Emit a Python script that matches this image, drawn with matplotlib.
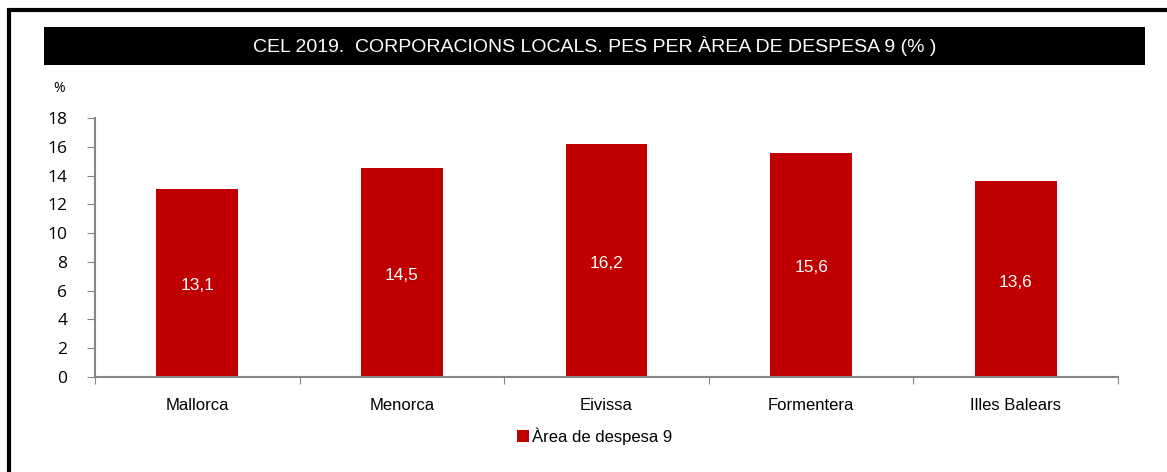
import matplotlib
matplotlib.use("Agg")
import matplotlib.pyplot as plt
from matplotlib.patches import Rectangle

categories = ["Mallorca", "Menorca", "Eivissa", "Formentera", "Illes Balears"]
values = [13.1, 14.5, 16.2, 15.6, 13.6]
series_name = "Àrea de despesa 9"
title = "CEL 2019.  CORPORACIONS LOCALS. PES PER ÀREA DE DESPESA 9 (% )"

narrow = ["Liberation Sans Narrow", "Liberation Sans", "DejaVu Sans"]
red = "#c00000"
grey = "#868686"

W, H = 1167, 472
fig = plt.figure(figsize=(W / 100, H / 100), dpi=100)

# outer black frame (runs off right and bottom edges)
fig.patches.append(Rectangle((9 / W, -0.1), 1.2, 1 - 10 / H + 0.1,
                             transform=fig.transFigure, fill=False,
                             edgecolor="black", linewidth=3))
# title band
fig.patches.append(Rectangle((44 / W, 1 - 65 / H), (1145 - 44) / W, 38 / H,
                             transform=fig.transFigure, facecolor="black",
                             edgecolor="none"))
fig.text((44 + 1145) / 2 / W, 1 - 46 / H, title, color="white",
         ha="center", va="center", fontsize=14, family=narrow)

ax = fig.add_axes([95 / W, 1 - 377 / H, (1118 - 95) / W, (377 - 118) / H])
x = range(len(categories))
bars = ax.bar(x, values, width=0.4, color=red, zorder=2)
for b, v in zip(bars, values):
    ax.text(b.get_x() + b.get_width() / 2, v / 2 - 0.2, f"{v:.1f}".replace(".", ","),
            color="white", ha="center", va="center", fontsize=12.5, family=narrow)

ax.set_xlim(-0.5, len(categories) - 0.5)
ax.set_ylim(0, 18)
ax.set_yticks(range(0, 19, 2))
ax.set_yticklabels([str(t) for t in range(0, 19, 2)], fontsize=12.5,
                   family=["Open Sans", "DejaVu Sans"])
ax.set_xticks([i - 0.5 for i in range(len(categories) + 1)], minor=False)
ax.set_xticklabels([])
ax.set_xticks(list(x), minor=True)
ax.set_xticklabels(categories, minor=True, fontsize=12, family=narrow)
ax.tick_params(axis="x", which="minor", length=0, pad=15)
ax.tick_params(axis="x", which="major", length=5, color=grey, direction="out")
ax.tick_params(axis="y", length=6, color=grey, pad=14)
for s in ["top", "right"]:
    ax.spines[s].set_visible(False)
for s in ["left", "bottom"]:
    ax.spines[s].set_color(grey)
    ax.spines[s].set_linewidth(1.5)

fig.text(53 / W, 1 - 88 / H, "%", fontsize=10, ha="left", va="center",
         family=["Open Sans", "DejaVu Sans"])

leg = fig.legend([bars[0]], [series_name], loc="center",
                 bbox_to_anchor=(595 / W, 1 - 436 / H), frameon=False,
                 handlelength=0.7, handleheight=0.7, handletextpad=0.2,
                 prop={"family": narrow, "size": 12})

fig.savefig("out.png", dpi=100)
